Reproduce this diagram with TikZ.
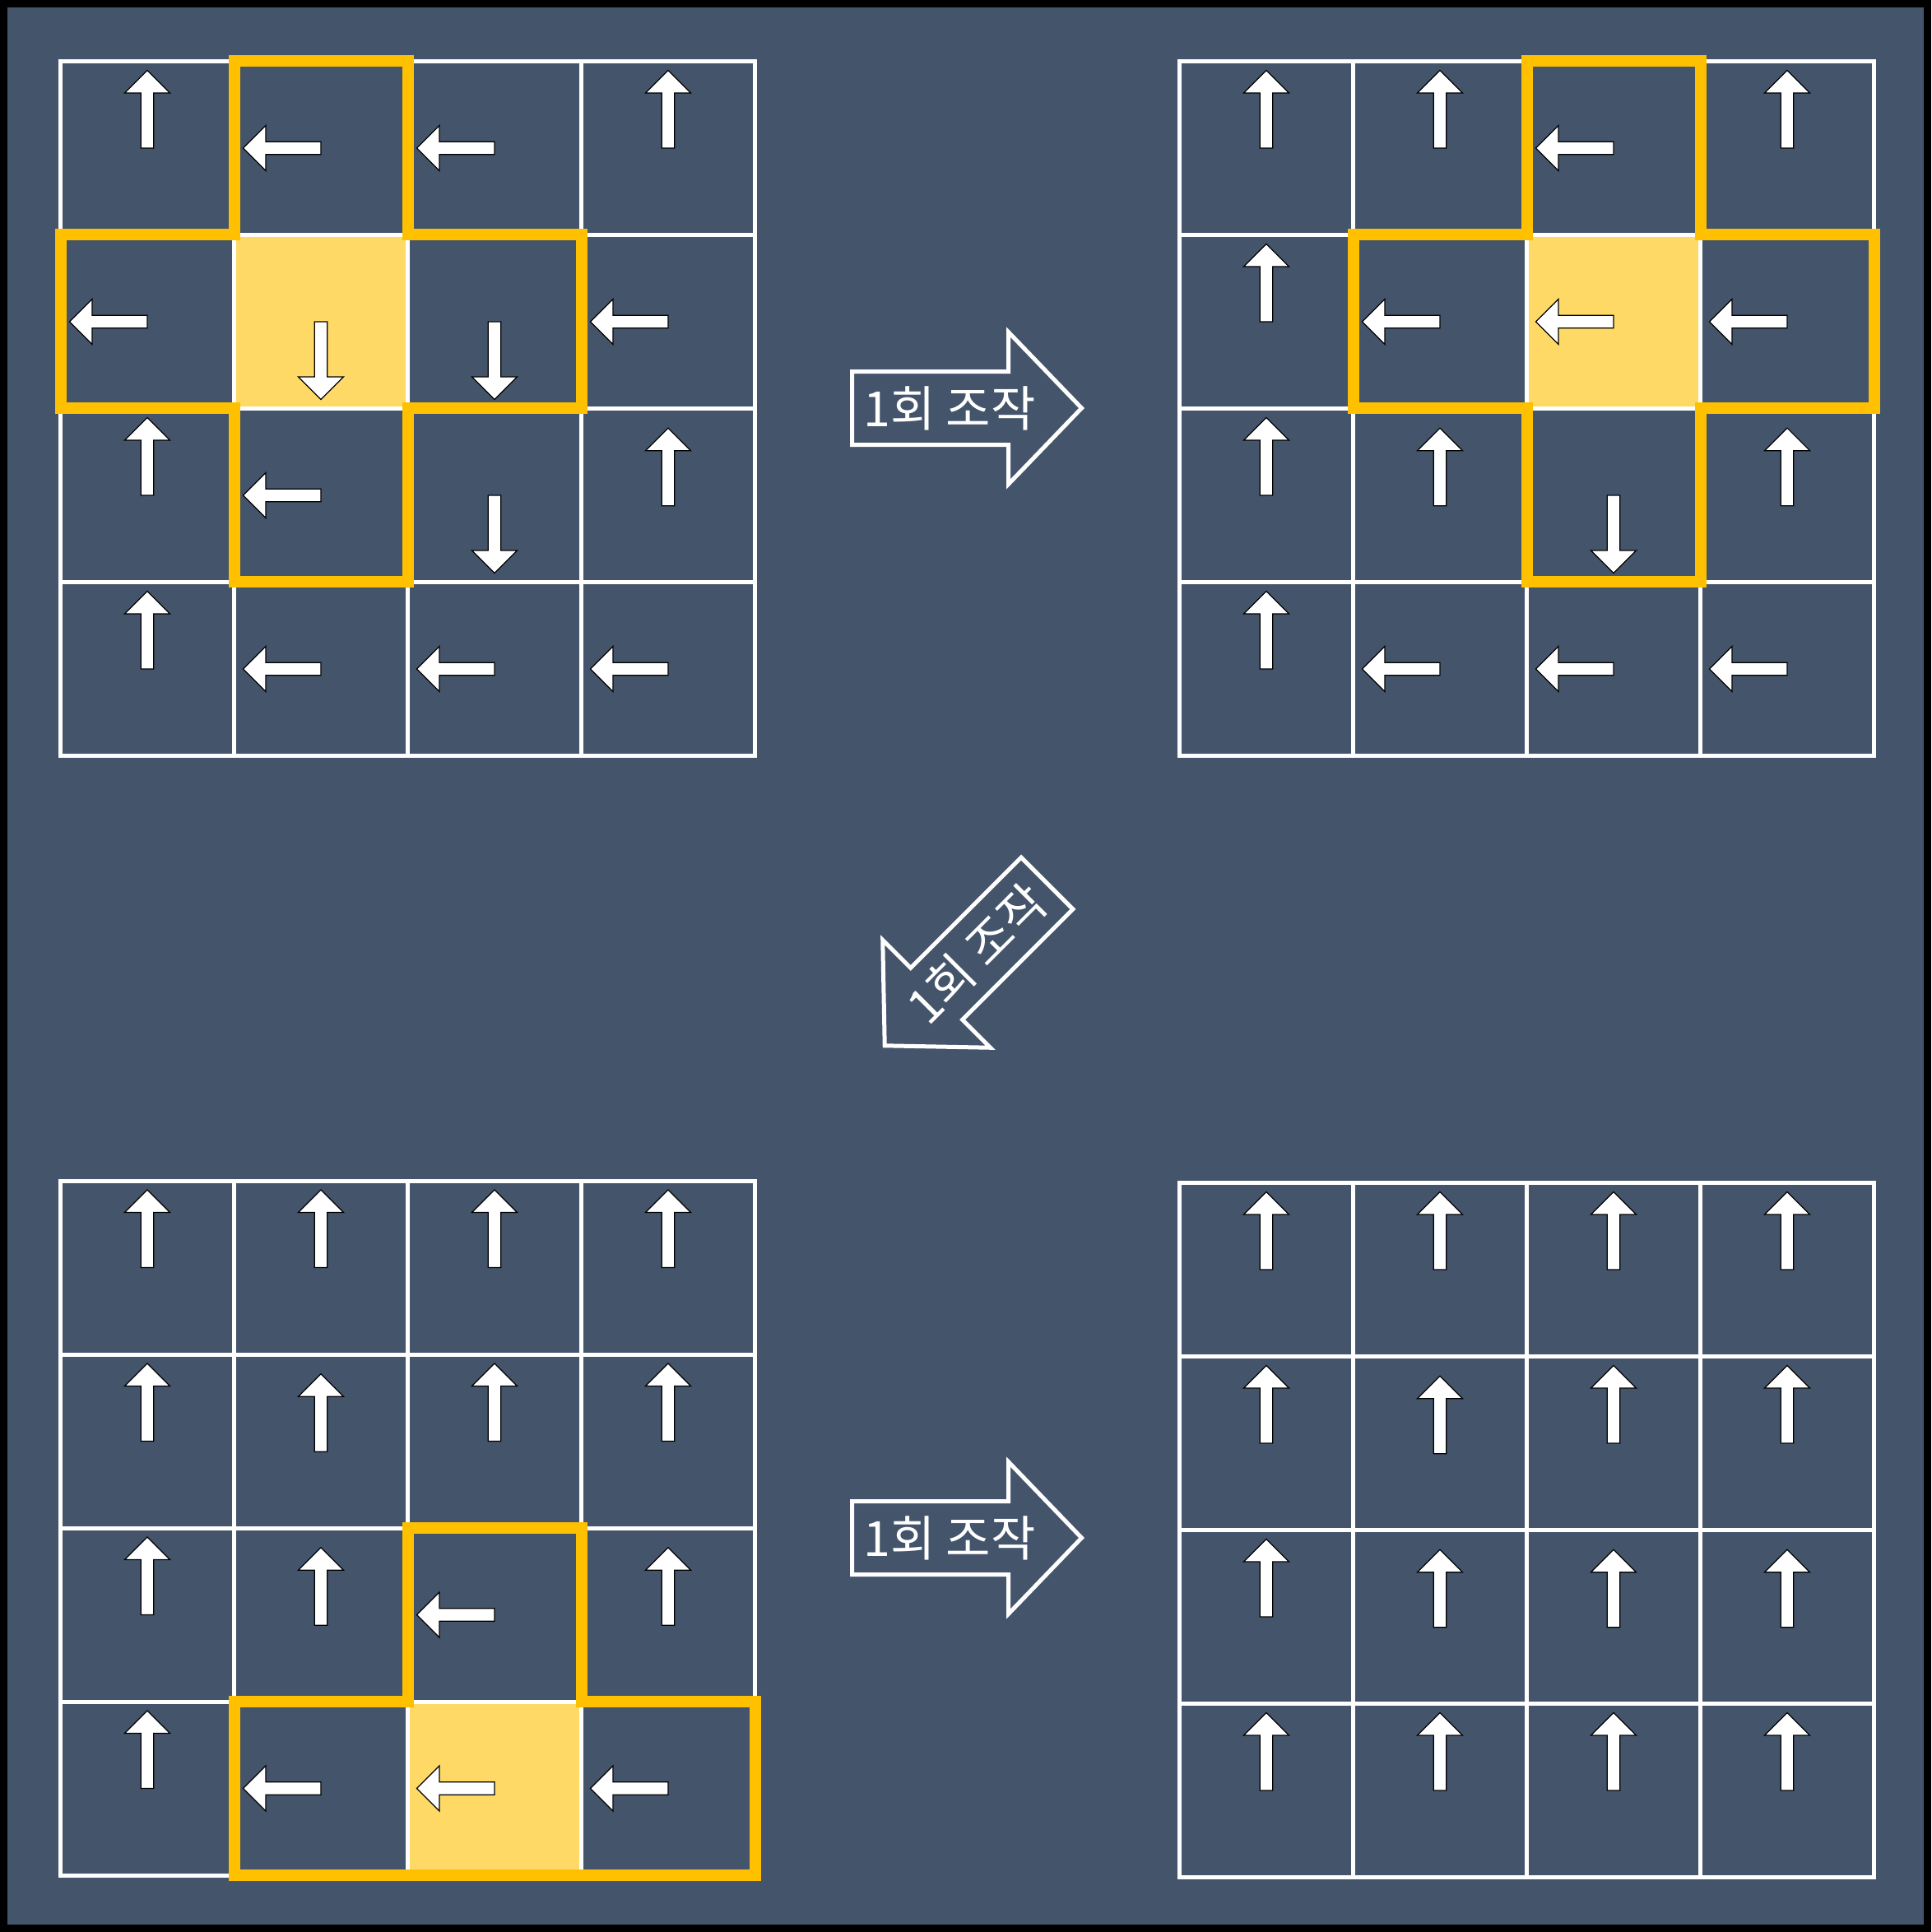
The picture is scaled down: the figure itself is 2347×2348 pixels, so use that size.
\documentclass[tikz,border=0pt]{standalone}
\usepackage{fontspec}
\newfontfamily\krfont{Noto Sans CJK KR}
\definecolor{slate}{HTML}{44546A}
\definecolor{hiline}{HTML}{FFC000}
\definecolor{hicell}{HTML}{FFD966}

\begin{document}
\begin{tikzpicture}[
    x=0.1mm, y=-0.1mm,
    gridline/.style={draw=white,line width=0.5mm},
    hiborder/.style={draw=hiline,line width=1.4mm},
    hifill/.style={fill=hicell},
    arrowbody/.style={fill=white,draw=black,line width=0.35pt},
    opbox/.style={draw=white,line width=0.5mm},
    oplabel/.style={text=white,font=\krfont\fontsize{16.8pt}{19pt}\selectfont,inner sep=0pt},
    board/.pic={
      \draw[gridline] (0,0) rectangle (4,4);
      \foreach \k in {1,2,3}{
        \draw[gridline] (\k,0) -- (\k,4);
        \draw[gridline] (0,\k) -- (4,\k);
      }
    },
    cellarrow/.pic={\draw[arrowbody] (-0.77mm,0) -- (-0.77mm,6.7mm) -- (-2.75mm,6.7mm) -- (0,9.45mm)
      -- (2.75mm,6.7mm) -- (0.77mm,6.7mm) -- (0.77mm,0) -- cycle;},
    oparrow/.pic={\draw[opbox] (0,-44.5) -- (190,-44.5) -- (190,-92.5) -- (279,0) -- (190,92.5)
      -- (190,44.5) -- (0,44.5) -- cycle;},
]
\useasboundingbox (0,0) rectangle (2347,2348);
\fill[black] (0,0) rectangle (2347,2348);
\fill[slate] (9,9) rectangle (2338,2339);

\begin{scope}[shift={(73.5,74.5)},x=21.1mm,y=-21.1mm]
  \fill[hifill] (1,1) rectangle (2,2);
  \pic {board};
  \draw[hiborder] (1,0) -- (2,0) -- (2,1) -- (3,1) -- (3,2) -- (2,2) -- (2,3) -- (1,3) -- (1,2)
    -- (0,2) -- (0,1) -- (1,1) -- cycle;
  \foreach \a/\s [count=\i from 0] in {0/0,90/0,90/0,0/0, 90/0,180/0,180/0,90/0,
                                       0/0,90/0,180/0,0/0.06, 0/0,90/0,90/0,90/0}{
    \pgfmathtruncatemacro{\r}{floor(\i/4)}
    \pgfmathtruncatemacro{\c}{mod(\i,4)}
    \pic[rotate=\a] at (\c+0.5,\r+0.5+\s) {cellarrow};
  }
\end{scope}

\begin{scope}[shift={(1433.5,74.5)},x=21.1mm,y=-21.1mm]
  \fill[hifill] (2,1) rectangle (3,2);
  \pic {board};
  \draw[hiborder] (2,0) -- (3,0) -- (3,1) -- (4,1) -- (4,2) -- (3,2) -- (3,3) -- (2,3) -- (2,2)
    -- (1,2) -- (1,1) -- (2,1) -- cycle;
  \foreach \a/\s [count=\i from 0] in {0/0,0/0,90/0,0/0, 0/0,90/0,90/0,90/0,
                                       0/0,0/0.06,180/0,0/0.06, 0/0,90/0,90/0,90/0}{
    \pgfmathtruncatemacro{\r}{floor(\i/4)}
    \pgfmathtruncatemacro{\c}{mod(\i,4)}
    \pic[rotate=\a] at (\c+0.5,\r+0.5+\s) {cellarrow};
  }
\end{scope}

\begin{scope}[shift={(73.5,1435)},x=21.1mm,y=-21.1mm]
  \fill[hifill] (2,3) rectangle (3,4);
  \pic {board};
  \draw[hiborder] (2,2) -- (3,2) -- (3,3) -- (4,3) -- (4,4) -- (1,4) -- (1,3) -- (2,3) -- cycle;
  \foreach \a/\s [count=\i from 0] in {0/0,0/0,0/0,0/0, 0/0,0/0.06,0/0,0/0,
                                       0/0,0/0.06,90/0,0/0.06, 0/0,90/0,90/0,90/0}{
    \pgfmathtruncatemacro{\r}{floor(\i/4)}
    \pgfmathtruncatemacro{\c}{mod(\i,4)}
    \pic[rotate=\a] at (\c+0.5,\r+0.5+\s) {cellarrow};
  }
\end{scope}

\begin{scope}[shift={(1433.5,1437.5)},x=21.1mm,y=-21.1mm]
  \pic {board};
  \foreach \s [count=\i from 0] in {0,0,0,0, 0,0.06,0,0, 0,0.06,0.06,0.06, 0,0,0,0}{
    \pgfmathtruncatemacro{\r}{floor(\i/4)}
    \pgfmathtruncatemacro{\c}{mod(\i,4)}
    \pic at (\c+0.5,\r+0.5+\s) {cellarrow};
  }
\end{scope}

\pic at (1035.5,496) {oparrow};
\pic at (1035.5,1869) {oparrow};
\pic[rotate=225] at (1272.5,1073.5) {oparrow};
\node[oplabel] (op1) at (1154,496) {1회 조작};
\node[oplabel] (op2) at (1154,1869) {1회 조작};
\node[oplabel,rotate=45] (op3) at (1187,1159) {1회 조작};
\end{tikzpicture}
\end{document}
